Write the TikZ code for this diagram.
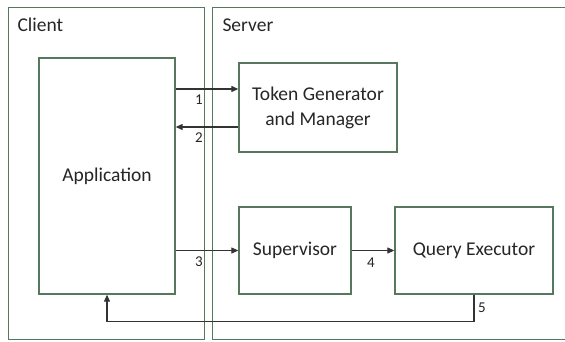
\documentclass[tikz,border=0pt]{standalone}
\usepackage{fontspec}
\setmainfont{Carlito}
\usetikzlibrary{arrows.meta,calc,positioning}
\definecolor{boxgreen}{HTML}{56785F}
\definecolor{wire}{HTML}{333333}
\definecolor{ink}{HTML}{262626}

\begin{document}
\begin{tikzpicture}[x=1pt,y=-1pt,
  font=\fontsize{19.5}{25}\selectfont, text=ink,
  box/.style={draw=boxgreen,line width=1.3pt,fill=white,align=center,inner sep=0pt},
  group/.style={draw=boxgreen,line width=1.3pt,anchor=north west,inner sep=0pt},
  flow/.style={-{Triangle[length=7pt,width=6pt]},draw=wire,line width=1.1pt},
  num/.style={font=\fontsize{15}{17}\selectfont}
]
% page is the 565 x 342 frame; the server frame runs off its right side
\clip (0,0) rectangle (565,342);

\node[group,minimum width=196pt,minimum height=332pt] (client) at (8,7) {};
\node[anchor=base west] (clientlbl) at (14,32) {Client};
\node[group,minimum width=365pt,minimum height=332pt] (server) at (212,7) {};
\node[anchor=base west] (serverlbl) at (219,32) {Server};

\node[box,minimum width=136pt,minimum height=236pt] (app) at (107,176) {Application};
\node[box,minimum width=158pt,minimum height=89pt] (token) at (318,107.5)
  {Token Generator\\and Manager};
\node[box,minimum width=112pt,minimum height=87pt] (super) at (295,250.5) {Supervisor};
\node[box,minimum width=158pt,minimum height=87pt] (query) at (474,250.5) {Query Executor};

\coordinate (tokin) at ([yshift=18.5pt]token.west);
\coordinate (tokout) at ([yshift=-19.5pt]token.west);
\draw[flow] (app.east |- tokin) -- (tokin);
\draw[flow] (tokout) -- (app.east |- tokout);
\draw[flow] (app.east |- super.west) -- (super.west);
\draw[flow] (super.east) -- (query.west);
\draw[flow] (query.south) -- ++(0,27) -| (app.south);

\node[num] (lbl1) at (199,100) {1};
\node[num] (lbl2) at (199,138) {2};
\node[num] (lbl3) at (199,262) {3};
\node[num] (lbl4) at (371,263) {4};
\node[num] (lbl5) at (482,308) {5};
\end{tikzpicture}
\end{document}
